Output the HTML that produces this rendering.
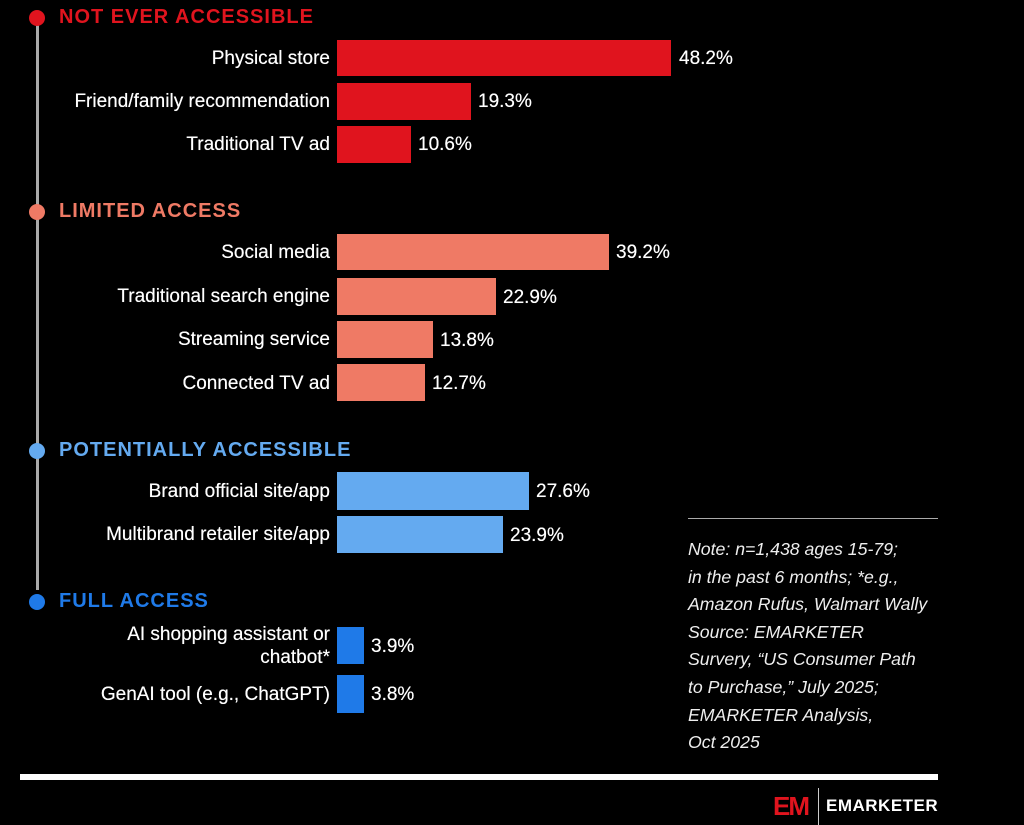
<!DOCTYPE html><html><head><style>
body{margin:0;width:1024px;height:825px;background:#000;position:relative;overflow:hidden;font-family:"Liberation Sans",sans-serif;color:#fff}
.a{position:absolute}
.h{position:absolute;left:59px;font-weight:bold;font-size:20px;letter-spacing:1px}
.d{position:absolute;left:29px;width:16px;height:16px;border-radius:50%}
.l{position:absolute;right:694px;font-size:19px;text-align:right;line-height:23px;white-space:nowrap;text-shadow:0 0 0.4px #fff}
.b{position:absolute;left:337px}
.v{position:absolute;font-size:19px;text-shadow:0 0 0.4px #fff}
</style></head><body>
<div class="a" style="left:36px;top:20px;width:3px;height:570px;background:#aaa"></div>
<div class="d" style="top:10px;background:#e0141e"></div><div class="h" style="top:6px;color:#e0141e">NOT EVER ACCESSIBLE</div>
<div class="d" style="top:204px;background:#ef7a65"></div><div class="h" style="top:200px;color:#ef7a65">LIMITED ACCESS</div>
<div class="d" style="top:443px;background:#64aaf0"></div><div class="h" style="top:439px;color:#64aaf0">POTENTIALLY ACCESSIBLE</div>
<div class="d" style="top:594px;background:#1f7ae8"></div><div class="h" style="top:590px;color:#1f7ae8">FULL ACCESS</div>

<div class="l" style="top:47px">Physical store</div><div class="b" style="top:40px;width:334px;height:36px;background:#e0141e"></div><div class="v" style="left:679px;top:48px">48.2%</div>
<div class="l" style="top:90px">Friend/family recommendation</div><div class="b" style="top:83px;width:134px;height:37px;background:#e0141e"></div><div class="v" style="left:478px;top:91px">19.3%</div>
<div class="l" style="top:133px">Traditional TV ad</div><div class="b" style="top:126px;width:74px;height:37px;background:#e0141e"></div><div class="v" style="left:418px;top:134px">10.6%</div>

<div class="l" style="top:241px">Social media</div><div class="b" style="top:234px;width:272px;height:36px;background:#ef7a65"></div><div class="v" style="left:616px;top:242px">39.2%</div>
<div class="l" style="top:285px">Traditional search engine</div><div class="b" style="top:278px;width:159px;height:37px;background:#ef7a65"></div><div class="v" style="left:503px;top:287px">22.9%</div>
<div class="l" style="top:328px">Streaming service</div><div class="b" style="top:321px;width:96px;height:37px;background:#ef7a65"></div><div class="v" style="left:440px;top:330px">13.8%</div>
<div class="l" style="top:372px">Connected TV ad</div><div class="b" style="top:364px;width:88px;height:37px;background:#ef7a65"></div><div class="v" style="left:432px;top:373px">12.7%</div>

<div class="l" style="top:480px">Brand official site/app</div><div class="b" style="top:472px;width:192px;height:38px;background:#64aaf0"></div><div class="v" style="left:536px;top:481px">27.6%</div>
<div class="l" style="top:523px">Multibrand retailer site/app</div><div class="b" style="top:516px;width:166px;height:37px;background:#64aaf0"></div><div class="v" style="left:510px;top:525px">23.9%</div>

<div class="l" style="top:623px">AI shopping assistant or<br>chatbot*</div><div class="b" style="top:627px;width:27px;height:37px;background:#1f7ae8"></div><div class="v" style="left:371px;top:636px">3.9%</div>
<div class="l" style="top:683px">GenAI tool (e.g., ChatGPT)</div><div class="b" style="top:675px;width:27px;height:38px;background:#1f7ae8"></div><div class="v" style="left:371px;top:684px">3.8%</div>

<div class="a" style="left:688px;top:518px;width:250px;height:1px;background:#aaa"></div>
<div class="a" style="left:688px;top:536px;font-size:17.7px;font-style:italic;line-height:27.6px;color:#eee;white-space:nowrap">Note: n=1,438 ages 15-79;<br>in the past 6 months; *e.g.,<br>Amazon Rufus, Walmart Wally<br>Source: EMARKETER<br>Survery, “US Consumer Path<br>to Purchase,” July 2025;<br>EMARKETER Analysis,<br>Oct 2025</div>
<div class="a" style="left:20px;top:774px;width:918px;height:6px;background:#fff"></div>
<div class="a" style="left:773px;top:791px;font-size:26px;font-weight:bold;color:#e0141e;letter-spacing:-2px">EM</div>
<div class="a" style="left:818px;top:788px;width:1px;height:37px;background:#ccc"></div>
<div class="a" style="left:826px;top:796px;font-size:17px;font-weight:bold;letter-spacing:0.5px">EMARKETER</div>
</body></html>
